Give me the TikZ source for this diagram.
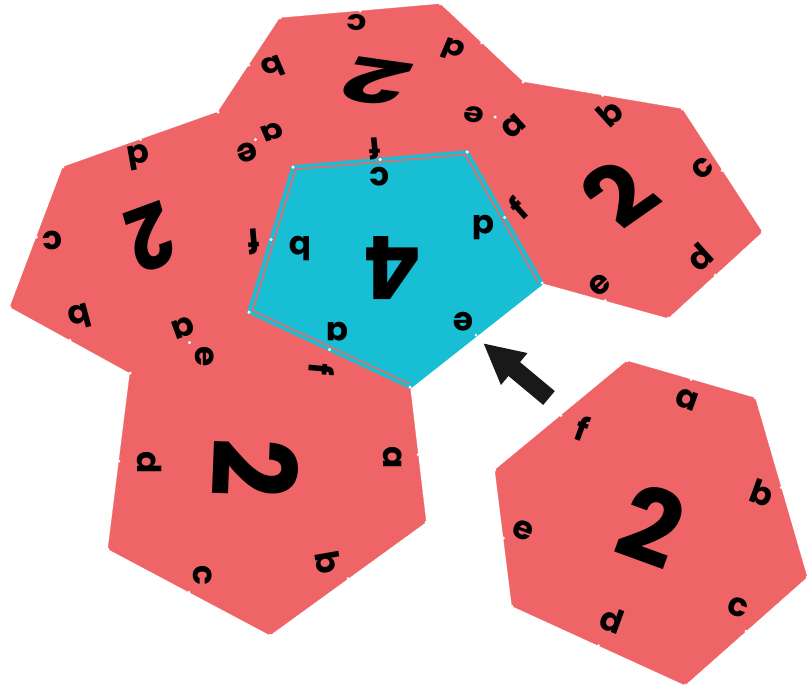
\documentclass[tikz,border=0pt]{standalone}
\usepackage{fontspec}
\setmainfont{Poppins}
\usetikzlibrary{arrows.meta,calc}

\definecolor{facered}{RGB}{239,101,103}
\definecolor{facecyan}{RGB}{24,190,211}

\tikzset{
  face/.style={fill=facered, draw=facered, line width=0.3pt, line join=round},
  centreface/.style={fill=facecyan, draw=facecyan, line width=1mm, line join=miter},
  seam/.style={draw=facered, line width=0.45mm, line join=miter},
  letter/.style={font=\bfseries\fontsize{28}{28}\selectfont, inner sep=0pt},
  numeral/.style={font=\bfseries\fontsize{88}{88}\selectfont, inner sep=0pt,
    text height=62pt, text depth=0pt},
  pip/.style={fill=white},
  push/.style={draw=black!90, line width=5.4mm, -{Triangle[length=12.2mm, width=11.5mm]}}
}

\begin{document}
\begin{tikzpicture}[x=0.3mm, y=-0.3mm]
    \useasboundingbox (0,0) rectangle (809,689);

    % corners of the faces
    \coordinate (t1) at (280,18);
    \coordinate (t2) at (440,4);
    \coordinate (t3) at (523,82);
    \coordinate (t4) at (467,152);
    \coordinate (t5) at (293,167);
    \coordinate (t6) at (218,112);

    \coordinate (r1) at (523,82);
    \coordinate (r2) at (682,109);
    \coordinate (r3) at (762,232);
    \coordinate (r4) at (668,318);
    \coordinate (r5) at (542,283);
    \coordinate (r6) at (467,152);

    \coordinate (l1) at (218,112);
    \coordinate (l2) at (293,167);
    \coordinate (l3) at (249,312);
    \coordinate (l4) at (130,373);
    \coordinate (l5) at (10,307);
    \coordinate (l6) at (63,167);

    \coordinate (b1) at (249,312);
    \coordinate (b2) at (410,387);
    \coordinate (b3) at (426,522);
    \coordinate (b4) at (270,635);
    \coordinate (b5) at (108,549);
    \coordinate (b6) at (130,373);

    \coordinate (d1) at (627,361);
    \coordinate (d2) at (755,398);
    \coordinate (d3) at (807,577);
    \coordinate (d4) at (685,685);
    \coordinate (d5) at (512,606);
    \coordinate (d6) at (495,470);

    \coordinate (p1) at (293,167);
    \coordinate (p2) at (467,152);
    \coordinate (p3) at (542,283);
    \coordinate (p4) at (410,387);
    \coordinate (p5) at (249,312);
    \coordinate (pc) at (392,260);

    % the hexagons
    \foreach \f in {t,r,l,b,d}
        \draw[face] (\f1) -- (\f2) -- (\f3) -- (\f4) -- (\f5) -- (\f6) -- cycle;

    % the pentagon in the middle
    \draw[centreface] (p1) -- (p2) -- (p3) -- (p4) -- (p5) -- cycle;
    \draw[seam] ($(pc)!0.975!(p3)$) -- ($(pc)!0.975!(p2)$) -- ($(pc)!0.975!(p1)$)
        -- ($(pc)!0.975!(p5)$) -- ($(pc)!0.975!(p4)$);

    % white marks on corners and edge middles
    \foreach \f in {t,r,l,b,d}
        \foreach \i/\j in {1/2,2/3,3/4,4/5,5/6,6/1} {
            \fill[pip] (\f\i) circle[radius=1.5];
            \fill[pip] ($(\f\i)!0.5!(\f\j)$) circle[radius=1.5];
        }
    \foreach \i/\j in {1/2,2/3,3/4,4/5,5/1} {
        \fill[pip] (p\i) circle[radius=1.5];
        \fill[pip] ($(p\i)!0.5!(p\j)$) circle[radius=1.5];
    }

    % top face
    \node[numeral, xscale=1.1, yscale=0.58, rotate=165] (t-num) at (377,80) {2};
    \node[letter, yscale=0.85, rotate=175] (t-c) at (357,23) {c};
    \node[letter, yscale=0.85, rotate=160] (t-d) at (453,50) {d};
    \node[letter, yscale=0.85, rotate=170] (t-e) at (474,115) {e};
    \node[letter, yscale=0.85, rotate=185] (t-f) at (375,149) {f};
    \node[letter, yscale=0.85, rotate=200] (t-a) at (272,132) {a};
    \node[letter, yscale=0.85, rotate=200] (t-b) at (273,67) {b};

    % right face
    \node[numeral, yscale=0.78, rotate=42] (r-num) at (620,195) {2};
    \node[letter, rotate=42] (r-a) at (514,126) {a};
    \node[letter, rotate=42] (r-b) at (610,113) {b};
    \node[letter, rotate=42] (r-c) at (703,168) {c};
    \node[letter, rotate=42] (r-d) at (700,257) {d};
    \node[letter, rotate=42] (r-e) at (600,285) {e};
    \node[letter, rotate=42] (r-f) at (518,208) {f};

    % left face
    \node[numeral, xscale=0.75, yscale=0.85, rotate=198] (l-num) at (150,236) {2};
    \node[letter, rotate=190] (l-d) at (139,157) {d};
    \node[letter, rotate=185] (l-c) at (52,240) {c};
    \node[letter, rotate=195] (l-b) at (80,317) {b};
    \node[letter, rotate=200] (l-a) at (183,328) {a};
    \node[letter, rotate=185] (l-f) at (254,242) {f};
    \node[letter, rotate=200] (l-e) at (247,153) {e};

    % bottom face
    \node[numeral, xscale=1.12, rotate=-92] (b-num) at (253,468) {2};
    \node[letter, rotate=-90] (b-a) at (393,458) {a};
    \node[letter, rotate=-80] (b-b) at (328,562) {b};
    \node[letter, rotate=-90] (b-c) at (203,575) {c};
    \node[letter, rotate=-90] (b-d) at (150,463) {d};
    \node[letter, rotate=-90] (b-e) at (205,357) {e};
    \node[letter, rotate=-95] (b-f) at (322,369) {f};

    % loose face
    \node[numeral, rotate=-20] (d-num) at (651,527) {2};
    \node[letter, rotate=-20] (d-a) at (687,400) {a};
    \node[letter, rotate=-20] (d-b) at (762,493) {b};
    \node[letter, rotate=-20] (d-c) at (738,607) {c};
    \node[letter, rotate=-20] (d-d) at (612,620) {d};
    \node[letter, rotate=-20] (d-e) at (523,530) {e};
    \node[letter, rotate=-20] (d-f) at (582,428) {f};

    % centre face
    \node[numeral, scale=0.85, rotate=180] (p-num) at (393,267) {4};
    \node[letter, rotate=180] (p-c) at (380,177) {c};
    \node[letter, rotate=180] (p-d) at (483,227) {d};
    \node[letter, rotate=180] (p-e) at (463,322) {e};
    \node[letter, rotate=180] (p-a) at (337,332) {a};
    \node[letter, rotate=180] (p-b) at (300,248) {b};

    % where the loose face goes
    \coordinate (push-tail) at (549,398);
    \coordinate (push-tip) at (483,343);
    \draw[push] (push-tail) -- (push-tip);
\end{tikzpicture}
\end{document}
